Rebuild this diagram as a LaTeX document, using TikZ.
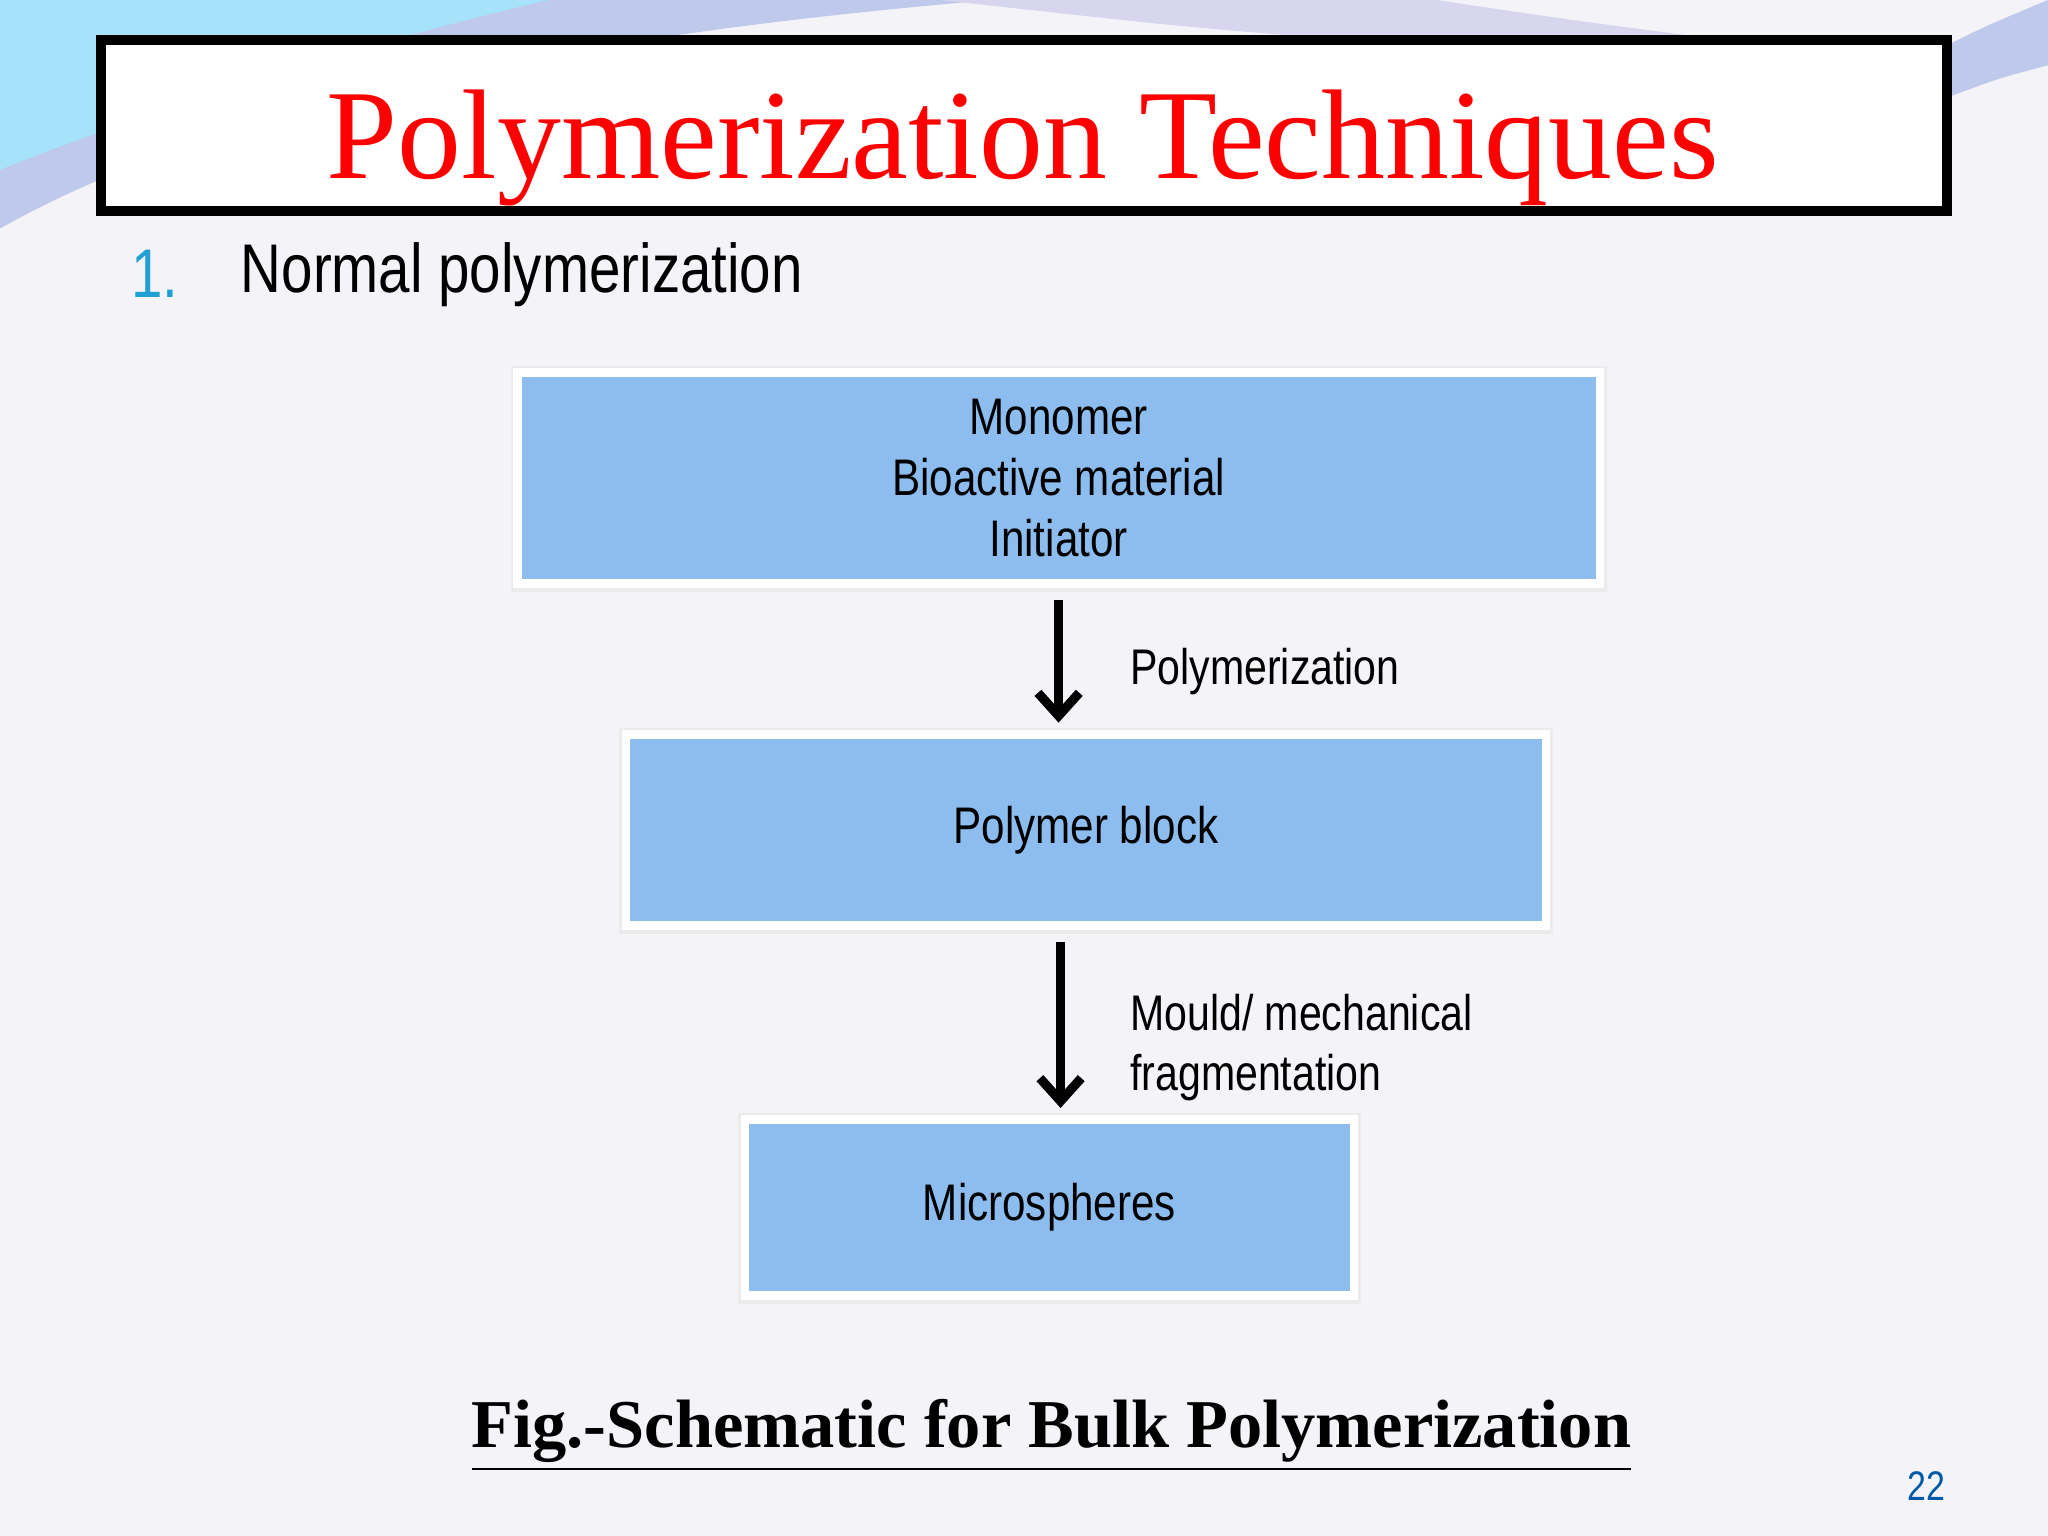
\documentclass[tikz,border=0pt]{standalone}
\usepackage{fontspec}
\setmainfont{Liberation Serif}
\newfontfamily\nar[FakeStretch=0.82]{Liberation Sans}
\usetikzlibrary{arrows.meta}
\definecolor{boxblue}{HTML}{8DBDEE}
\definecolor{bg}{HTML}{F4F4F8}
\begin{document}
\begin{tikzpicture}[x=0.01cm,y=0.01cm,
  blk/.style={draw=white,line width=1.5pt,fill=boxblue,inner sep=0pt,
    font=\nar\fontsize{11.2}{13.2}\selectfont,align=center},
  arr/.style={line width=2pt,-{Straight Barb[length=5pt,width=9pt,line width=2pt]}},
  lbl/.style={font=\nar\fontsize{10.9}{13.2}\selectfont,align=left,anchor=west}]
\useasboundingbox (0,0) rectangle (1568,-1176);
\fill[bg] (0,0) rectangle (1568,-1176);
% decorative swooshes
\fill[cyan!40!blue!25] (0,0) -- (760,0) .. controls (400,-30) and (150,-90) .. (0,-175) -- cycle;
\fill[cyan!35] (0,0) -- (420,0) .. controls (250,-40) and (100,-90) .. (0,-130) -- cycle;
\fill[cyan!20!blue!15] (720,0) .. controls (900,-20) .. (1000,-28) -- (1300,-28) .. controls (1200,-15) .. (1100,0) -- cycle;
\fill[cyan!40!blue!25] (1480,-40) .. controls (1520,-20) .. (1568,0) -- (1568,-50) .. controls (1530,-60) .. (1490,-75) -- cycle;
% title
\node[draw=black,line width=2.2pt,fill=white,minimum width=14.12cm,minimum height=1.31cm,inner sep=0pt] (title) at (784,-96) {};
\node[text=red,font=\fontsize{27.8}{33}\selectfont] (tt) at (783,-113) {Polymerization Techniques};
\node[anchor=west,text=cyan!70!teal,font=\nar\fontsize{15}{19}\selectfont] (num) at (88,-210) {1.};
\node[anchor=west,font=\nar\fontsize{15}{19}\selectfont] (sub) at (172,-210) {Normal polymerization};
% boxes shadows
\foreach \a/\b/\c/\d in {397/286/1224/446,480/563/1183/708,571/858/1036/991}{
  \fill[black!8] (\a-6,-\b+6) rectangle (\c+6,-\d-7);
  \fill[white] (\a-4,-\b+4) rectangle (\c+4,-\d-4);}
\node[blk,minimum width=8.27cm,minimum height=1.6cm] (b1) at (810.5,-366) {Monomer\\Bioactive material\\Initiator};
\node[blk,minimum width=7.03cm,minimum height=1.45cm] (b2) at (831.5,-635.5) {Polymer block};
\node[blk,minimum width=4.65cm,minimum height=1.33cm] (b3) at (803.5,-924.5) {Microspheres};
\draw[arr] ([yshift=-3pt]b1.south) -- ([yshift=2pt]b1.south|-b2.north);
\coordinate (a2) at (812,0);
\draw[arr] ([yshift=-3pt]b2.south-|a2) -- ([yshift=2pt]b3.north-|a2);
\node[lbl] (l1) at (853,-514) {Polymerization};
\node[lbl] (l2) at (853,-802) {Mould/ mechanical\\fragmentation};
\node[font=\bfseries\fontsize{14.9}{18}\selectfont] (cap) at (805,-1099) {\underline{Fig.-Schematic for Bulk Polymerization}};
\node[text=teal!70!blue,font=\nar\fontsize{9}{11}\selectfont] (pg) at (1475,-1138) {22};
\end{tikzpicture}
\end{document}
